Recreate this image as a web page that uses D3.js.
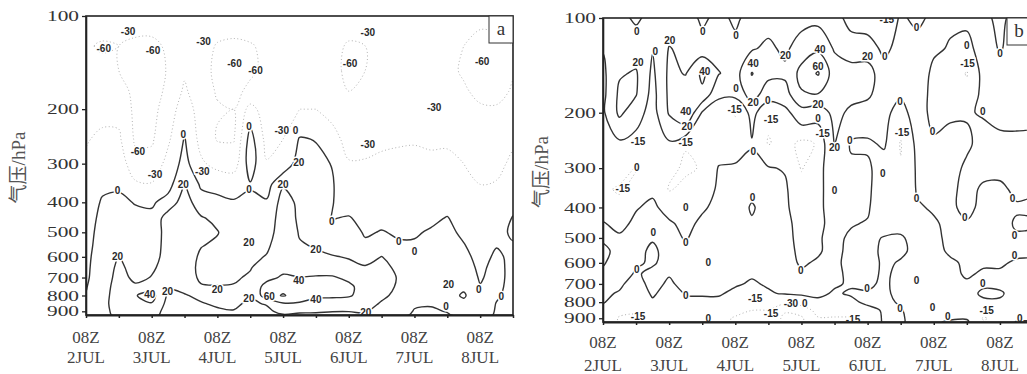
<!DOCTYPE html>
<html>
<head>
<meta charset="utf-8">
<script src="https://cdn.jsdelivr.net/npm/d3@7"></script>
<style>
  body { margin: 0; background: #fff; }
  svg { display: block; }
</style>
</head>
<body>
<svg id="chart" width="1027" height="374"></svg>
<script>
// grid: one column per 6 h from 08Z 2 JUL, values top (100 hPa) -> bottom (925 hPa)
const pressureLevels = [100, 125, 150, 175, 200, 250, 300, 350, 400, 450, 500, 550, 600, 650, 700, 750, 800, 850, 900, 925];
const stepHours = 6;
const pressureTicks = [100, 200, 300, 400, 500, 600, 700, 800, 900];
const dayTicks = ['2JUL', '3JUL', '4JUL', '5JUL', '6JUL', '7JUL', '8JUL'];

// panel a
const fieldA = [
  [-45,-58,-50,-45,-40,-32,-26,-20,-16,-12,-9,-7,-5,-4,-3,-1,1,4,6,7],
  [-50,-62,-55,-48,-38,-25,-15,-6,3,7,9,10,11,12,12,13,14,15,14,13],
  [-48,-60,-60,-52,-40,-25,-12,-3,4,8,12,16,20.5,23,25,27,28,28,27,26],
  [-45,-66,-70,-65,-66,-64,-50,-25,-1,5,8,11,13,15,17,22,39,31,26,24],
  [-42,-68,-72,-70,-68,-64,-50,-28,-3,5,8,12,15,18.5,20.5,30,47,39,30,27],
  [-38,-55,-58,-55,-48,-35,-20,-8,8,30,28,26,25,24,23,21,17,14,12,11],
  [-30,-40,-35,-25,-12,2,10,21,30,33,33,32,30,28,26,24,19,15,12,11],
  [-40,-50,-52,-50,-45,-40,-25,-3,8,22,24,21,17,16,18,21,23,19,15,13],
  [-45,-62,-65,-62,-58,-62,-40,-8,6,15,21,17,14,13,15,21,24,22,18,15],
  [-45,-65,-68,-66,-60,-62,-45,-10,2,6,9,12,14,16,18,21,25,24,19,17],
  [-45,-62,-64,-55,-20,12,14,-2,4,8,11,14,16,19,22,30,22,16,12,10],
  [-40,-55,-55,-50,-45,-40,-28,-8,2,8,12,17,21,28,36,45,50,22,14,11],
  [-40,-52,-50,-45,-40,-30,-15,18,28,30,30,30,32,36,42,52,62,38,28,18],
  [-38,-48,-45,-40,-30,2,10,14,16,17,19,21,26,32,40.5,50,50,38,24,15],
  [-40,-50,-48,-42,-30,-1,6,10,12,14,16,19,22,30,42,48,44,32,22,17],
  [-42,-55,-55,-50,-40,-20,-1,2,1,-1,8,14,21,30,42,48,44,30,20.5,16],
  [-50,-62,-64,-60,-52,-40,-28,-18,-12,2,8,14,19,24,36,44,42,30,20.5,15],
  [-48,-60,-60,-55,-48,-38,-28,-20,-14,-8,-2,3,12,22,28,32,33,28,22,18],
  [-42,-55,-55,-52,-45,-35,-25,-18,-12,-5,1,8,20.5,26,28,27,24,18,12,10],
  [-40,-50,-50,-48,-42,-33,-24,-16,-10,-5,-2,2,10,16,19,18,15,12,8,6],
  [-40,-48,-48,-45,-40,-32,-24,-16,-10,-6,-2,2,6,8,9,8,6,2,-1,-3],
  [-42,-52,-52,-48,-42,-34,-25,-17,-10,-4,2,5,8,10,12,12,10,2,-3,-5],
  [-45,-55,-56,-50,-44,-34,-24,-16,-8,1,5,8,11,14,17,21,14,6,1,-2],
  [-48,-60,-62,-58,-50,-40,-30,-22,-15,-9,-4,1,5,9,13,17,22,16,10,8],
  [-55,-66,-68,-64,-58,-48,-38,-30,-24,-18,-13,-9,-6,-4,-2,1,8,16,12,10],
  [-52,-66,-70,-66,-58,-48,-38,-28,-18,-10,-4,-1,3,6,7,6,3,-1,-2,-3],
  [-50,-60,-62,-58,-48,-36,-24,-14,-6,1,2,-1,-4,-6,-7,-8,-8,-7,-6,-5]
];
const solidLevelsA = [0, 20, 40, 60];
const dottedLevelsA = [-60, -30];
// contour labels: [day, hPa, text]
const labelsA = [
  [0.64,112,'-30'],[0.27,127,'-60'],[1.02,129,'-60'],[1.79,121,'-30'],[2.26,142,'-60'],[2.58,150,'-60'],
  [4.29,113,'-30'],[4.02,142,'-60'],[6.03,140,'-60'],[5.30,198,'-30'],[0.79,275,'-60'],[1.05,324,'-30'],
  [1.77,318,'-30'],[2.98,235,'-30'],[3.19,235,'0'],[4.29,261,'-30'],
  [0.48,367,'0'],[1.48,242,'0'],[2.48,228,'0'],[2.48,364,'0'],[3.74,462,'0'],[4.76,536,'0'],
  [5.98,766,'0'],[6.32,805,'0'],[5.48,868,'0'],[5.0,575,'0'],
  [0.48,599,'20'],[1.48,351,'20'],[3.0,351,'20'],[2.0,766,'20'],[3.24,298,'20'],[2.48,540,'20'],
  [3.5,569,'20'],[1.24,776,'20'],[2.48,818,'20'],[4.26,908,'20'],[5.52,738,'20'],
  [0.97,794,'40'],[3.24,716,'40'],[3.5,824,'40'],[2.79,805,'60']
];

// panel b
const fieldB = [
  [3,1,-4,-5,-3,-5,-6,-12,-8,1,2,-3,-1,2,3,2,1,-5,-8,-8],
  [5,12,18,24,24,-3,-8,-17,-10,-4,2,4,5,4,2,-1,-6,-12,-16,-16],
  [-3,10,22,21,8,-6,-16,-10,-1,3,4,3,1,-1,-5,-9,-12,-14,-16,-16],
  [6,1,-4,-7,-8,-9,-10,-3,3,4,1,-2,-1,2,4,2,-2,-8,-12,-13],
  [8,21,24,24,22,-2,-12,-16,-6,2,4,4,3,1,-2,-6,-9,-12,-14,-14],
  [10,15,19,32,42,-14,-17,-12,-8,-4,-1,2,4,5,4,1,-3,-8,-12,-13],
  [-4,8,44,36,-2,-10,-14,-10,-2,3,5,6,5,4,3,1,-2,-6,-10,-11],
  [6,12,21,2,-6,-9,1,3,4,5,6,6,5,4,3,1,-2,-8,-12,-13],
  [-4,6,12,4,-16,-8,2,4,5,6,5,4,3,2,1,-2,-6,-12,-16,-16],
  [8,18,41,30,5,-1,3,3,-1,1,3,4,3,1,-1,-5,-10,-15,-17,-17],
  [12,24,26,8,-12,-16,1,3,4,5,5,4,3,2,1,-1,-5,-15,-18,-18],
  [10,16,24,12,-6,-10,-1,2,2,3,3,3,3,3,2,1,-12,-28,-34,-34],
  [12,30,46,38,12,-18,-16,-10,-6,-4,-3,-2,-1,1,3,2,-8,-24,-32,-33],
  [14,36,62,39,8,-14,-6,-3,-2,-2,-1,-1,1,2,3,2,-2,-10,-16,-16],
  [8,18,30,28,26,21,12,6,4,3,3,3,2,2,1,-1,-4,-10,-16,-16],
  [-8,10,28,26,16,-2,3,4,3,1,-2,-3,-3,-2,-1,1,-2,-8,-16,-17],
  [-10,8,30,24,10,-2,2,3,2,-1,-4,-5,-5,-4,-2,1,2,-3,-10,-12],
  [-12,-4,6,8,4,2,-6,-10,-12,-8,1,3,2,2,2,2,2,1,2,2],
  [2,6,8,2,-6,-16,-14,-10,-8,-3,1,2,-1,-3,-4,-3,-1,1,3,3],
  [-3,5,8,10,8,4,2,1,-1,-2,-3,-3,-2,-2,-3,-3,-4,-6,-9,-9],
  [3,2,-3,-6,-5,2,4,3,1,-1,-2,-2,-3,-3,-3,-2,-2,-3,-2,-1],
  [2,-1,-6,-8,-1,2,4,3,2,2,2,1,-1,-2,-3,-3,-3,-2,-1,1],
  [3,-4,-16,-10,-1,2,-2,-4,-3,1,2,2,1,1,-1,-2,-3,-4,-1,2],
  [4,6,5,4,1,-4,-4,2,3,3,3,2,1,-1,-1,1,-1,-8,-16,-14],
  [-4,-1,4,6,4,-3,-3,2,3,3,2,1,1,-1,-2,1,-1,-6,-12,-12],
  [6,5,4,4,3,-2,-3,-2,1,-1,1,2,-1,-2,-3,-3,-4,-6,-4,1],
  [5,4,3,2,1,-1,-2,-1,1,-1,1,1,-1,-2,-2,-3,-3,-4,-3,1]
];
const solidLevelsB = [0, 20, 40, 60];
const dottedLevelsB = [-30, -15];
const labelsB = [
  [0.51,110,'0'],[0.53,138,'20'],[0.79,128,'0'],[0.51,298,'0'],[0.53,246,'-15'],[0.30,347,'-15'],
  [1.01,118,'20'],[1.54,148,'40'],[1.25,198,'40'],[1.27,221,'20'],[1.25,248,'-15'],[1.51,110,'0'],
  [2.01,114,'0'],[2.01,168,'0'],[1.99,195,'-15'],[2.27,140,'40'],[2.27,185,'20'],[2.49,183,'0'],
  [2.54,210,'-15'],[2.76,132,'20'],[3.28,126,'40'],[3.25,143,'60'],[3.25,189,'20'],[3.25,208,'0'],
  [3.32,232,'-15'],[3.5,258,'20'],[4.0,133,'20'],[4.26,133,'0'],[4.29,101,'-15'],[4.74,107,'0'],
  [5.5,122,'0'],[5.51,139,'-15'],[6.0,130,'0'],[4.49,184,'0'],[4.52,231,'-15'],[5.74,198,'0'],
  [4.98,229,'0'],[3.73,245,'0'],[1.25,400,'0'],[1.25,517,'0'],[0.76,481,'0'],[2.26,372,'0'],
  [2.27,265,'0'],[0.51,631,'0'],[1.25,762,'0'],[1.59,599,'0'],[2.99,635,'0'],[1.59,902,'0'],
  [0.53,889,'-15'],[2.3,780,'-15'],[2.54,869,'-15'],[2.84,809,'-30'],[3.05,809,'0'],[3.5,353,'0'],
  [4.23,312,'0'],[4.74,374,'0'],[3.99,724,'0'],[4.74,683,'0'],[4.98,832,'0'],[5.47,431,'0'],
  [6.19,374,'0'],[6.22,491,'0'],[6.22,569,'0'],[5.74,698,'0'],[5.8,851,'-15'],[4.49,839,'0'],
  [5.21,889,'0'],[6.3,902,'0'],[3.78,910,'-15']
];

const svg = d3.select('#chart');

function drawPanel(cfg) {
  const g = svg.append('g');
  const x = d3.scaleLinear().domain([0, 156]).range([cfg.left, cfg.right]);
  const y = d3.scaleLog().domain([100, 925]).range([cfg.top, cfg.bottom]);

  // grid -> flat array for d3.contours (row major)
  const nx = cfg.field.length, ny = pressureLevels.length;
  const values = [];
  for (let j = 0; j < ny; j++) {
    for (let i = 0; i < nx; i++) values.push(cfg.field[i][j]);
  }
  const rowLog = d3.scaleLinear().domain(d3.range(ny)).range(pressureLevels.map(Math.log10));
  const px = c => x((c - 0.5) * stepHours);
  const py = c => y(Math.pow(10, rowLog(c - 0.5)));

  g.append('clipPath').attr('id', 'clip-' + cfg.name)
    .append('rect')
    .attr('x', cfg.left).attr('y', cfg.top)
    .attr('width', cfg.right - cfg.left).attr('height', cfg.bottom - cfg.top);

  const line = d3.line()
    .x(d => px(d[0]))
    .y(d => py(d[1]))
    .curve(d3.curveCatmullRomClosed.alpha(0.5));

  const plot = g.append('g').attr('clip-path', `url(#clip-${cfg.name})`);
  const contours = d3.contours().size([nx, ny])
    .thresholds(cfg.dotted.concat(cfg.solid))(values);

  contours.forEach(c => {
    const dotted = c.value < 0;
    c.coordinates.forEach(poly => poly.forEach(ring => {
      let pts = ring;
      const a = pts[0], b = pts[pts.length - 1];
      if (a[0] === b[0] && a[1] === b[1]) pts = pts.slice(0, -1);
      plot.append('path')
        .attr('d', line(pts))
        .attr('fill', 'none')
        .attr('stroke', dotted ? '#b3b3b3' : '#333')
        .attr('stroke-width', dotted ? 1 : 1.4)
        .attr('stroke-dasharray', dotted ? '1 2.5' : null)
        .attr('stroke-linejoin', 'round');
    }));
  });

  // contour labels
  plot.selectAll('text.lab')
    .data(cfg.labels)
    .join('text')
    .attr('class', 'lab')
    .attr('x', d => x(d[0] * 24))
    .attr('y', d => y(d[1]))
    .attr('dy', '0.35em')
    .attr('text-anchor', 'middle')
    .attr('font-family', 'Liberation Sans, Arial, sans-serif')
    .attr('font-weight', 'bold')
    .attr('font-size', 10)
    .attr('fill', '#2a2a2a')
    .attr('stroke', '#fff')
    .attr('stroke-width', 3)
    .attr('paint-order', 'stroke')
    .text(d => d[2]);

  // frame
  g.append('rect')
    .attr('x', cfg.left).attr('y', cfg.top)
    .attr('width', cfg.right - cfg.left).attr('height', cfg.bottom - cfg.top)
    .attr('fill', 'none').attr('stroke', '#222').attr('stroke-width', 1.6);

  // axes
  const xAxis = g.append('g')
    .attr('transform', `translate(0,${cfg.bottom})`)
    .call(d3.axisBottom(x).tickValues(d3.range(0, 157, 12)).tickSize(3).tickSizeOuter(0).tickFormat(''));
  xAxis.select('.domain').attr('stroke', '#222').attr('stroke-width', 2);
  xAxis.selectAll('.tick line').attr('stroke', '#222').attr('stroke-width', 1.5);

  const yAxis = g.append('g')
    .attr('transform', `translate(${cfg.left},0)`)
    .call(d3.axisLeft(y).tickValues(pressureTicks).tickSize(4).tickSizeOuter(0).tickFormat(d3.format('d')));
  yAxis.select('.domain').attr('stroke', '#222').attr('stroke-width', 1.6);
  yAxis.selectAll('.tick line').attr('stroke', '#222').attr('stroke-width', 1.3);
  yAxis.selectAll('.tick text')
    .attr('font-family', 'Liberation Serif, Times New Roman, serif')
    .attr('font-size', 14.5)
    .attr('textLength', 32)
    .attr('lengthAdjust', 'spacingAndGlyphs')
    .attr('fill', '#333')
    .attr('x', -7);

  // day labels
  const days = g.append('g')
    .attr('font-family', 'Liberation Serif, Times New Roman, serif')
    .attr('font-size', 17)
    .attr('fill', '#444')
    .attr('text-anchor', 'middle');
  days.selectAll('text.t08')
    .data(dayTicks)
    .join('text')
    .attr('class', 't08')
    .attr('x', (d, i) => x(i * 24))
    .attr('y', cfg.labY1)
    .text('08Z');
  days.selectAll('text.tday')
    .data(dayTicks)
    .join('text')
    .attr('class', 'tday')
    .attr('x', (d, i) => x(i * 24))
    .attr('y', cfg.labY2)
    .text(d => d);

  // axis title
  g.append('text')
    .attr('transform', `translate(${cfg.titleX},${(cfg.top + cfg.bottom) / 2 + 2}) rotate(-90)`)
    .attr('text-anchor', 'middle')
    .attr('dominant-baseline', 'central')
    .attr('font-family', 'Liberation Serif, Noto Sans CJK SC, serif')
    .attr('font-size', 19)
    .attr('fill', '#555')
    .text('气压/hPa');

  // panel letter
  g.append('rect')
    .attr('x', cfg.boxX).attr('y', cfg.top)
    .attr('width', 24).attr('height', 27)
    .attr('fill', '#fff').attr('stroke', '#333').attr('stroke-width', 1);
  g.append('text')
    .attr('x', cfg.boxX + 12).attr('y', cfg.top + 19)
    .attr('text-anchor', 'middle')
    .attr('font-family', 'Liberation Serif, serif')
    .attr('font-size', 19)
    .attr('fill', '#333')
    .text(cfg.name);
}

drawPanel({
  name: 'a', field: fieldA, solid: solidLevelsA, dotted: dottedLevelsA, labels: labelsA,
  left: 86, right: 513, top: 16, bottom: 315, labY1: 343, labY2: 363, titleX: 18, boxX: 489
});
drawPanel({
  name: 'b', field: fieldB, solid: solidLevelsB, dotted: dottedLevelsB, labels: labelsB,
  left: 603, right: 1033, top: 18, bottom: 322, labY1: 348, labY2: 371, titleX: 541, boxX: 1007
});
</script>
</body>
</html>
